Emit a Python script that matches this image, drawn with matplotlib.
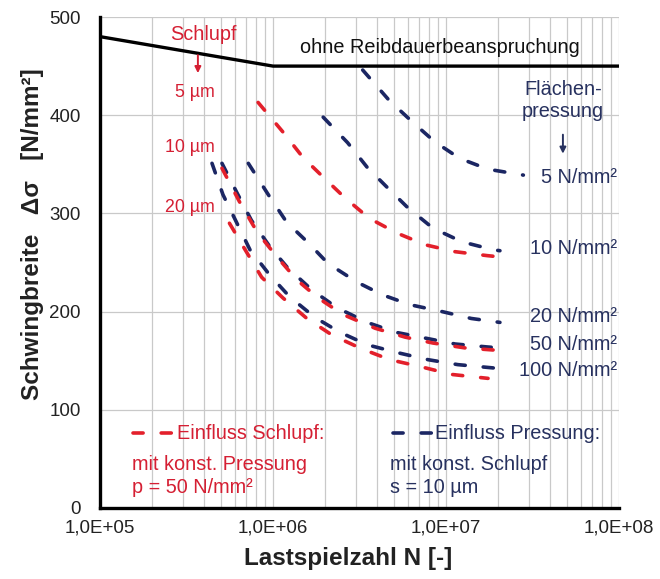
import matplotlib
matplotlib.use("Agg")
import matplotlib.pyplot as plt
from matplotlib.patches import Rectangle
from matplotlib.ticker import FixedLocator, LogLocator, NullFormatter
import numpy as np

plt.rcParams['font.family'] = ['Liberation Sans', 'DejaVu Sans']

### Data ###

# Wöhler line without fretting fatigue
n_ref = [1e5, 1e6, 1e8]
s_ref = [480, 450, 450]

# Influence of slip at constant pressure p = 50 N/mm²
n_slip_5 = [8.2e5, 1.14e6, 1.49e6, 1.95e6, 2.6e6, 3.6e6, 5.2e6, 7.6e6, 1.13e7, 1.73e7, 1.97e7]
s_slip_5 = [413, 383, 357, 337, 316, 295, 280, 268, 261, 257, 256]
n_slip_10 = [5.07e5, 6.44e5, 8.1e5, 1.05e6, 1.38e6, 1.82e6, 2.54e6, 3.9e6, 5.8e6, 8.4e6, 1.29e7, 2.2e7]
s_slip_10 = [346, 311, 281, 256, 232, 214, 197, 183, 174, 168, 163, 160]
n_slip_20 = [5.6e5, 6.9e5, 8.6e5, 1.14e6, 1.57e6, 2.2e6, 3.27e6, 4.74e6, 7.1e6, 1.08e7, 1.75e7]
s_slip_20 = [290, 263, 235, 214, 193, 176, 162, 151, 144, 136, 132]

# Influence of contact pressure at constant slip s = 10 µm
n_p_5 = [3.3e6, 4.7e6, 6.5e6, 8.6e6, 1.2e7, 1.75e7, 2.8e7]
s_p_5 = [446, 415, 392, 373, 356, 345, 339]
n_p_10 = [1.95e6, 2.7e6, 3.5e6, 4.6e6, 6.0e6, 8.4e6, 1.24e7, 1.87e7, 2.05e7]
s_p_10 = [398, 372, 347, 326, 306, 285, 271, 263, 262]
n_p_20 = [7.2e5, 9.4e5, 1.2e6, 1.6e6, 2.08e6, 3.06e6, 4.3e6, 6.2e6, 9.5e6, 1.4e7, 2.05e7]
s_p_20 = [351, 319, 291, 270, 249, 230, 217, 207, 200, 193, 189]
n_p_50 = [5.07e5, 6.19e5, 7.5e5, 9.6e5, 1.21e6, 1.68e6, 2.34e6, 3.5e6, 5.1e6, 7.6e6, 1.13e7, 1.73e7, 2.05e7]
s_p_50 = [351, 321, 293, 266, 245, 222, 204, 189, 179, 173, 167, 164, 163]
n_p_100 = [4.44e5, 5.14e5, 6.19e5, 7.36e5, 9.6e5, 1.25e6, 1.75e6, 2.43e6, 3.54e6, 5.3e6, 7.9e6, 1.17e7, 2.05e7]
s_p_100 = [351, 319, 290, 263, 237, 215, 194, 179, 166, 158, 151, 146, 142]

slip_labels = ["5 µm", "10 µm", "20 µm"]
slip_label_y = [423, 367, 306]
pressure_labels = ["5 N/mm²", "10 N/mm²", "20 N/mm²", "50 N/mm²", "100 N/mm²"]
pressure_label_y = [337, 264, 195, 167, 140]

x_ticks = [1e5, 1e6, 1e7, 1e8]
x_ticklabels = ["1,0E+05", "1,0E+06", "1,0E+07", "1,0E+08"]
y_ticks = [0, 100, 200, 300, 400, 500]

### Styles ###

RED = '#e3202b'
RED_TXT = '#d51f33'
NAVY = '#1b2663'
NAVY_TXT = '#27315f'
DASH = dict(lw=2.6, linestyle=(0, (2.8, 5.0)), dash_capstyle='round')
FS = 14.3

### Plot ###

fig = plt.figure(figsize=(6.6, 5.79), dpi=100)
ax = fig.add_axes([100 / 660, 1 - 508 / 579, 519 / 660, 491 / 579])

ax.set_xscale('log')
ax.set_xlim(1e5, 1e8)
ax.set_ylim(0, 500)

# grid: every decade plus the intermediate log ticks
ax.xaxis.set_major_locator(FixedLocator(x_ticks))
ax.xaxis.set_minor_locator(LogLocator(base=10, subs=np.arange(2, 10)))
ax.xaxis.set_minor_formatter(NullFormatter())
ax.set_xticklabels(x_ticklabels)
ax.set_yticks(y_ticks)
ax.grid(True, which='both', axis='x', color='#c9c9c9', lw=0.9, zorder=0)
ax.grid(True, which='major', axis='y', color='#c9c9c9', lw=0.9, zorder=0)
ax.tick_params(axis='both', which='both', length=0, labelsize=13.5, labelcolor='#222222')
ax.tick_params(axis='x', pad=8)
ax.tick_params(axis='y', pad=14)

for side in ('top', 'right'):
    ax.spines[side].set_visible(False)
for side in ('left', 'bottom'):
    ax.spines[side].set_linewidth(2.4)
    ax.spines[side].set_zorder(5)

# white panels behind the legend text
ax.add_patch(Rectangle((1e5, 3), 2.44e6 - 1e5, 91, facecolor='white', edgecolor='none', zorder=1))
ax.add_patch(Rectangle((4.44e6, 3), 8.6e7 - 4.44e6, 91, facecolor='white', edgecolor='none', zorder=1))

ax.plot(n_ref, s_ref, color='black', lw=2.4, zorder=3)

for n, s in [(n_p_5, s_p_5), (n_p_10, s_p_10), (n_p_20, s_p_20), (n_p_50, s_p_50), (n_p_100, s_p_100)]:
    ax.plot(n, s, color=NAVY, zorder=3, **DASH)
for n, s in [(n_slip_5, s_slip_5), (n_slip_10, s_slip_10), (n_slip_20, s_slip_20)]:
    ax.plot(n, s, color=RED, zorder=4, **DASH)

# annotations
ax.text(1.43e6, 469, "ohne Reibdauerbeanspruchung", fontsize=FS, color='#111111', va='center', ha='left', zorder=6)
ax.text(3.94e5, 482, "Schlupf", fontsize=FS, color=RED_TXT, va='center', ha='center', zorder=6)
ax.annotate("", xy=(3.68e5, 440), xytext=(3.68e5, 464),
            arrowprops=dict(arrowstyle='-|>', color=RED_TXT, lw=1.4, mutation_scale=9), zorder=6)
for lab, yv in zip(slip_labels, slip_label_y):
    ax.text(4.63e5, yv, lab, fontsize=FS - 1.5, color=RED_TXT, va='center', ha='right', zorder=6)

ax.text(4.74e7, 415, "Flächen-\npressung", fontsize=FS, color=NAVY_TXT, va='center', ha='center',
        linespacing=1.15, zorder=6)
ax.annotate("", xy=(4.74e7, 358), xytext=(4.74e7, 383),
            arrowprops=dict(arrowstyle='-|>', color=NAVY_TXT, lw=1.4, mutation_scale=9), zorder=6)
for lab, yv in zip(pressure_labels, pressure_label_y):
    ax.text(9.7e7, yv, lab, fontsize=FS, color=NAVY_TXT, va='center', ha='right', zorder=6)

# legend
ax.plot([1.55e5, 2.64e5], [76, 76], color=RED, zorder=6, **DASH)
ax.text(2.79e5, 76, "Einfluss Schlupf:", fontsize=FS, color=RED_TXT, va='center', ha='left', zorder=6)
ax.text(1.53e5, 44, "mit konst. Pressung", fontsize=FS, color=RED_TXT, va='center', ha='left', zorder=6)
ax.text(1.53e5, 21, "p = 50 N/mm²", fontsize=FS, color=RED_TXT, va='center', ha='left', zorder=6)
ax.plot([4.94e6, 8.3e6], [76, 76], color=NAVY, zorder=6, **DASH)
ax.text(8.63e6, 76, "Einfluss Pressung:", fontsize=FS, color=NAVY_TXT, va='center', ha='left', zorder=6)
ax.text(4.74e6, 44, "mit konst. Schlupf", fontsize=FS, color=NAVY_TXT, va='center', ha='left', zorder=6)
ax.text(4.74e6, 21, "s = 10 µm", fontsize=FS, color=NAVY_TXT, va='center', ha='left', zorder=6)

# axis titles
fig.text(348 / 660, 1 - 558 / 579, "Lastspielzahl N [-]", fontsize=17.5, fontweight='bold',
         ha='center', va='center', color='#222222')
fig.text(33 / 660, 1 - 234 / 579, "Schwingbreite   Δσ   [N/mm²]", fontsize=17.5, fontweight='bold',
         ha='center', va='center', rotation=90, color='#222222')

fig.savefig("out.png", dpi=100)
